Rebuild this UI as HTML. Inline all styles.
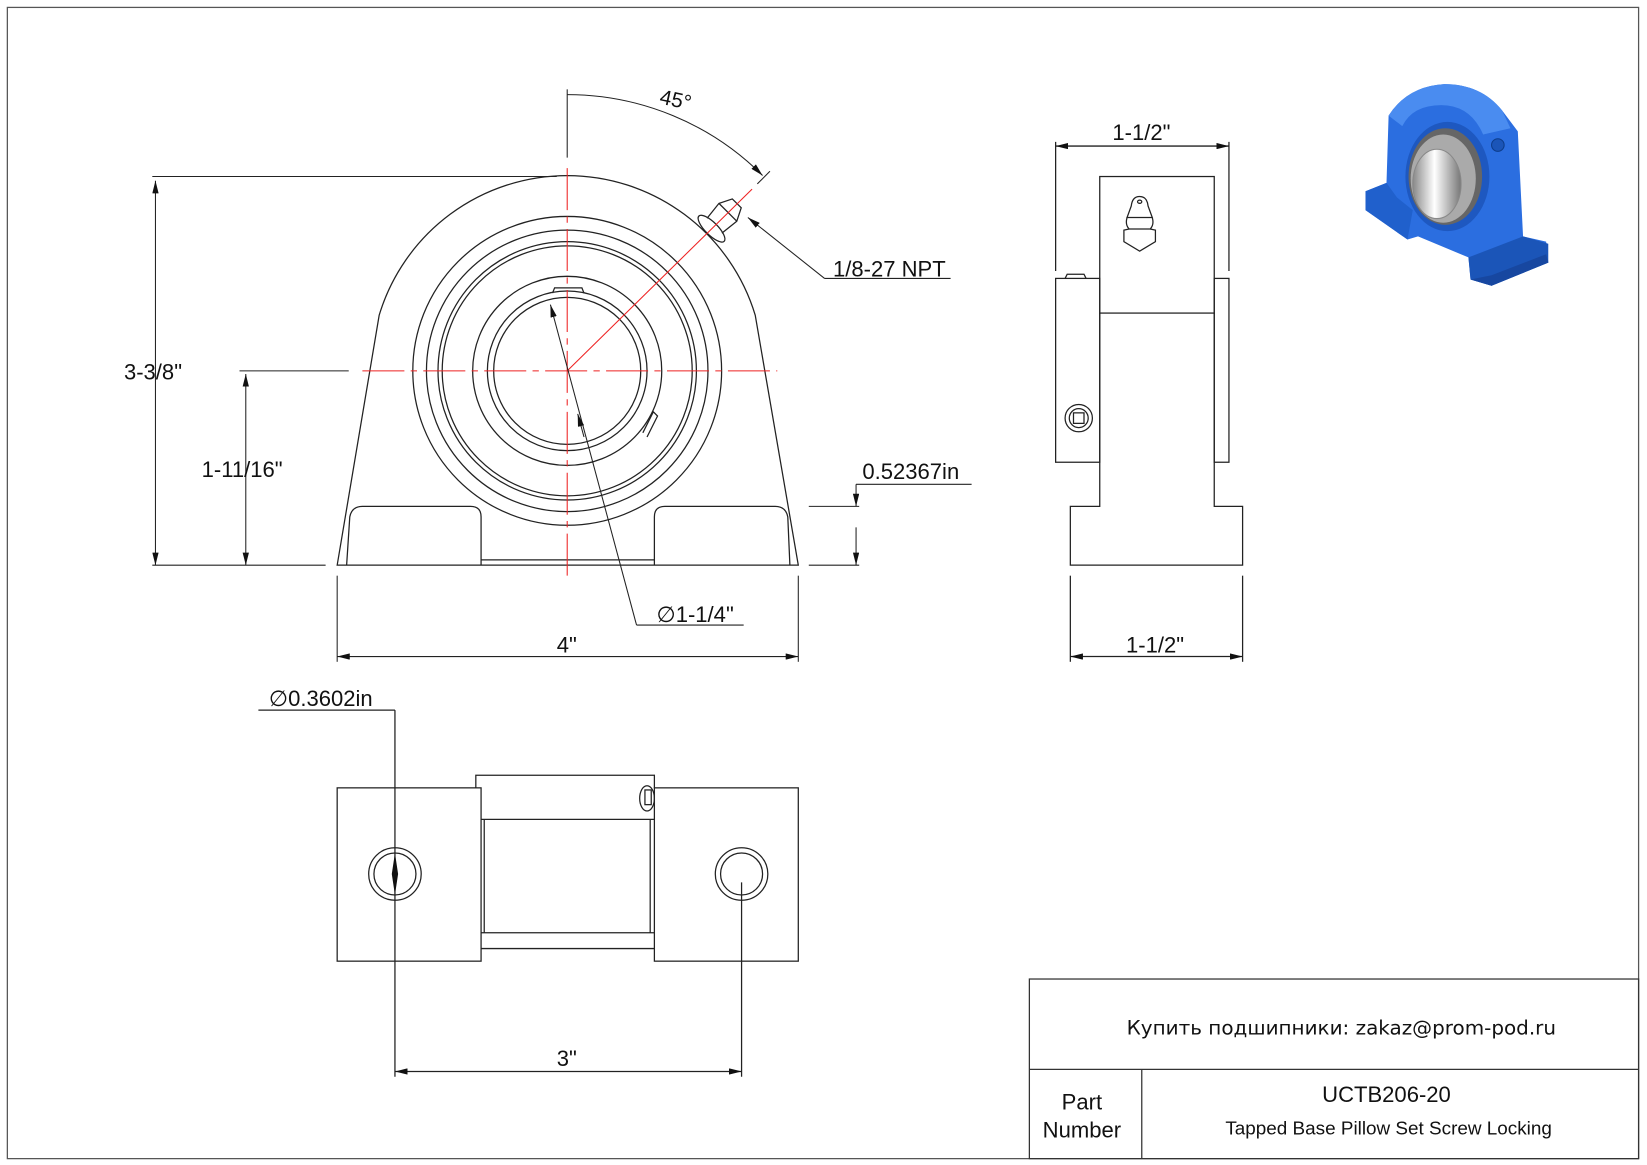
<!DOCTYPE html>
<html><head><meta charset="utf-8"><style>
html,body{margin:0;padding:0;background:#fff}
svg{display:block}
text{font-family:"Liberation Sans",Arial,sans-serif;fill:#111}
</style></head><body>
<svg width="1647" height="1165" viewBox="0 0 1568 1109" xmlns="http://www.w3.org/2000/svg">
<defs>
<marker id="a" viewBox="0 0 12 6" refX="12" refY="3" markerWidth="12" markerHeight="6" orient="auto-start-reverse" markerUnits="userSpaceOnUse"><path d="M0,0 L12,3 L0,6z" fill="#111"/></marker>
<linearGradient id="steel" x1="0" y1="0" x2="1" y2="0"><stop offset="0" stop-color="#888"/><stop offset=".45" stop-color="#fff"/><stop offset="1" stop-color="#777"/></linearGradient>
</defs>
<g fill="none" stroke="#222" stroke-width="1.2">
<rect x="7" y="7" width="1553" height="1096" stroke="#555"/>
<path d="M321,538 L361,300 A187,187 0 0 1 719,300 L760,538 Z"/>
<path d="M330,538 L333,492 Q335,482 345,482 L448,482 Q458,482 458,492 L458,538"/>
<path d="M623,538 L623,492 Q623,482 633,482 L738,482 Q748,482 750,492 L752,538"/>
<line x1="458" y1="533" x2="623" y2="533"/>
<circle cx="540" cy="353" r="147"/>
<circle cx="540" cy="353" r="134"/>
<circle cx="540" cy="353" r="123"/>
<circle cx="540" cy="353" r="119"/>
<circle cx="540" cy="353" r="90"/>
<circle cx="540" cy="353" r="76"/>
<circle cx="540" cy="353" r="70"/>
<path d="M526,279 L528,274 L554,274 L556,279"/>
<path d="M612,412 L622,392 L626,396 L616,416"/>
<g transform="rotate(45 688 207)">
<ellipse cx="688" cy="222" rx="17" ry="6"/>
<path d="M678,218 L676,200 L682,188 L694,188 L700,200 L698,218"/>
<line x1="676" y1="200" x2="700" y2="200"/>
</g>
</g>
<g stroke="#e22" stroke-width="1" stroke-dasharray="40,6,6,6" fill="none">
<line x1="540" y1="160" x2="540" y2="550"/>
<line x1="345" y1="353" x2="740" y2="353"/>
<line x1="540" y1="353" x2="716" y2="180" stroke-dasharray="none"/>
</g>
<g stroke="#222" stroke-width="1" fill="none">
<line x1="540" y1="150" x2="540" y2="85"/>
<path d="M540,90 A263,263 0 0 1 726,167" marker-end="url(#a)"/>
<line x1="721" y1="175" x2="733" y2="163"/>
<line x1="145" y1="168" x2="530" y2="168"/>
<line x1="148" y1="172" x2="148" y2="538" marker-start="url(#a)" marker-end="url(#a)"/>
<line x1="145" y1="538" x2="310" y2="538"/>
<line x1="228" y1="353" x2="332" y2="353"/>
<line x1="234" y1="356" x2="234" y2="538" marker-start="url(#a)" marker-end="url(#a)"/>
<line x1="321" y1="548" x2="321" y2="630"/>
<line x1="760" y1="548" x2="760" y2="630"/>
<line x1="321" y1="625" x2="760" y2="625" marker-start="url(#a)" marker-end="url(#a)"/>
<line x1="770" y1="482" x2="818" y2="482"/>
<line x1="770" y1="538" x2="818" y2="538"/>
<line x1="815" y1="461" x2="925" y2="461"/>
<line x1="815" y1="461" x2="815" y2="482" marker-end="url(#a)"/>
<line x1="815" y1="538" x2="815" y2="502" marker-start="url(#a)"/>
<line x1="712" y1="207" x2="785" y2="265" marker-start="url(#a)"/>
<line x1="785" y1="265" x2="905" y2="265"/>
<line x1="524" y1="290" x2="606" y2="595" marker-start="url(#a)"/>
<line x1="556" y1="416" x2="550" y2="394" marker-end="url(#a)"/>
<line x1="606" y1="595" x2="708" y2="595"/>
</g>
<text x="628" y="102" font-size="20" transform="rotate(12 645 96)">45°</text>
<text x="793" y="263" font-size="21">1/8-27 NPT</text>
<text x="118" y="361" font-size="21">3-3/8"</text>
<text x="192" y="454" font-size="21">1-11/16"</text>
<text x="821" y="456" font-size="21">0.52367in</text>
<text x="625" y="592" font-size="21">∅1-1/4"</text>
<text x="530" y="621" font-size="21">4"</text>
<g fill="none" stroke="#222" stroke-width="1.2">
<rect x="1047" y="168" width="109" height="130"/>
<rect x="1005" y="265" width="42" height="175"/>
<rect x="1156" y="265" width="14" height="175"/>
<path d="M1047,298 L1047,482 L1019,482 L1019,538 L1183,538 L1183,482 L1156,482 L1156,298"/>
<path d="M1014,265 L1016,261 L1032,261 L1034,265"/>
<circle cx="1027" cy="398" r="13"/><circle cx="1027" cy="398" r="9"/><rect x="1022" y="393" width="10" height="10"/>
<path d="M1077,196 Q1078,187 1085,187 Q1092,187 1093,196 L1097,207 L1073,207 Z"/>
<path d="M1073,207 Q1071,214 1075,218 L1095,218 Q1099,214 1097,207"/>
<ellipse cx="1085" cy="192" rx="2" ry="1.5"/>
<path d="M1075,218 L1070,219 L1070,230 L1085,239 L1100,230 L1100,219 L1095,218"/>
<line x1="1005" y1="135" x2="1005" y2="258"/>
<line x1="1170" y1="135" x2="1170" y2="258"/>
<line x1="1005" y1="139" x2="1170" y2="139" marker-start="url(#a)" marker-end="url(#a)"/>
<line x1="1019" y1="548" x2="1019" y2="630"/>
<line x1="1183" y1="548" x2="1183" y2="630"/>
<line x1="1019" y1="625" x2="1183" y2="625" marker-start="url(#a)" marker-end="url(#a)"/>
</g>
<text x="1059" y="133" font-size="21">1-1/2"</text>
<text x="1072" y="621" font-size="21">1-1/2"</text>
<g fill="none" stroke="#222" stroke-width="1.2">
<rect x="321" y="750" width="137" height="165"/>
<rect x="623" y="750" width="137" height="165"/>
<path d="M453,750 L453,738 L623,738 L623,750"/>
<line x1="458" y1="780" x2="623" y2="780"/>
<line x1="458" y1="888" x2="623" y2="888"/>
<line x1="458" y1="903" x2="623" y2="903"/>
<line x1="461" y1="780" x2="461" y2="888"/>
<line x1="619" y1="780" x2="619" y2="888"/>
<ellipse cx="616" cy="760" rx="7" ry="12"/><rect x="614" y="752" width="6" height="14"/>
<circle cx="376" cy="832" r="25"/><circle cx="376" cy="832" r="20"/>
<circle cx="706" cy="832" r="25"/><circle cx="706" cy="832" r="20"/>
<line x1="246" y1="676" x2="376" y2="676"/>
<line x1="376" y1="676" x2="376" y2="1025"/>
<line x1="706" y1="840" x2="706" y2="1025"/>
<line x1="376" y1="1020" x2="706" y2="1020" marker-start="url(#a)" marker-end="url(#a)"/>
</g>
<path d="M376,812 L379,832 L376,852 L373,832 Z" fill="#111"/>
<text x="256" y="672" font-size="21">∅0.3602in</text>
<text x="530" y="1015" font-size="21">3"</text>
<g fill="none" stroke="#333" stroke-width="1.2">
<rect x="980" y="932" width="580" height="171"/>
<line x1="980" y1="1018" x2="1560" y2="1018"/>
<line x1="1087" y1="1018" x2="1087" y2="1103"/>
</g>
<text x="1277" y="985" font-size="19" text-anchor="middle" style="font-family:'DejaVu Sans',sans-serif">Купить подшипники: zakaz@prom-pod.ru</text>
<text x="1030" y="1056" font-size="21" text-anchor="middle">Part</text>
<text x="1030" y="1083" font-size="21" text-anchor="middle">Number</text>
<text x="1320" y="1049" font-size="21" text-anchor="middle">UCTB206-20</text>
<text x="1322" y="1080" font-size="18" text-anchor="middle">Tapped Base Pillow Set Screw Locking</text>
<g>
<path d="M1300,182 L1320,174 L1322,110 Q1340,82 1375,80 Q1410,80 1430,105 L1445,125 L1450,225 L1472,230 L1474,250 L1420,272 L1400,266 L1398,245 L1350,225 L1340,228 L1300,200 Z" fill="#2b6ee0"/>
<path d="M1322,110 Q1340,82 1375,80 Q1410,80 1430,105 L1438,122 L1412,128 Q1400,100 1372,100 Q1345,100 1335,120 Z" fill="#4a8cf0"/>
<path d="M1300,182 L1320,174 L1330,188 L1345,200 L1340,228 L1300,200 Z" fill="#2060cc"/>
<path d="M1398,245 L1450,225 L1474,232 L1474,250 L1420,272 L1400,266 Z" fill="#1b55b8"/>
<path d="M1400,266 L1420,272 L1474,250 L1472,242 L1420,262 Z" fill="#1747a0"/>
<ellipse cx="1378" cy="168" rx="40" ry="52" fill="#1e58c0"/>
<ellipse cx="1376" cy="168" rx="35" ry="46" fill="#666"/>
<ellipse cx="1374" cy="170" rx="31" ry="42" fill="#aaa"/>
<ellipse cx="1368" cy="175" rx="23" ry="33" fill="url(#steel)" stroke="#888"/>
<circle cx="1426" cy="138" r="6" fill="#1b55b8" stroke="#0d3c8a"/>
</g>
</svg>
</body></html>
